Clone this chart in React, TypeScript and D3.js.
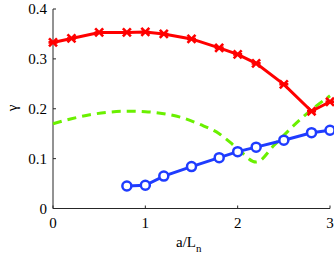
import React from "react";
import * as d3 from "d3";

const WIDTH = 334;
const HEIGHT = 255;
const X0 = 53;
const X1 = 330;
const Y0 = 208.5;
const Y1 = 9;

const redX = [0, 0.2, 0.5, 0.8, 1.0, 1.2, 1.5, 1.8, 2.0, 2.2, 2.5, 2.8, 3.0];
const redY = [0.333, 0.341, 0.353, 0.353, 0.354, 0.35, 0.34, 0.322, 0.309, 0.291, 0.249, 0.195, 0.214];

const blueX = [0.8, 1.0, 1.2, 1.5, 1.8, 2.0, 2.2, 2.5, 2.8, 3.0];
const blueY = [0.045, 0.0465, 0.065, 0.084, 0.102, 0.114, 0.123, 0.137, 0.152, 0.157];

const greenX = [0, 0.2, 0.4, 0.6, 0.8, 1.0, 1.2, 1.4, 1.6, 1.8, 2.0, 2.2, 2.4, 2.6, 2.8, 3.0];
const greenY = [0.17, 0.18, 0.188, 0.193, 0.195, 0.194, 0.19, 0.182, 0.168, 0.15, 0.12, 0.093, 0.128, 0.165, 0.198, 0.226];

const xTicks = [0, 1, 2, 3];
const yTicks = [0, 0.1, 0.2, 0.3, 0.4];

const FONT = "'Liberation Serif', 'Times New Roman', serif";

export default function App() {
  const x = d3.scaleLinear().domain([0, 3]).range([X0, X1]);
  const y = d3.scaleLinear().domain([0, 0.4]).range([Y0, Y1]);

  const line = d3
    .line<[number, number]>()
    .x((d) => x(d[0]))
    .y((d) => y(d[1]));

  const red = redX.map((v, i) => [v, redY[i]] as [number, number]);
  const blue = blueX.map((v, i) => [v, blueY[i]] as [number, number]);
  const green = greenX.map((v, i) => [v, greenY[i]] as [number, number]);

  return (
    <svg
      width={WIDTH}
      height={HEIGHT}
      style={{ position: "absolute", left: 0, top: 0, background: "#fff" }}
    >
      {/* axes */}
      <line x1={X0} x2={X0} y1={Y1} y2={Y0} stroke="#262626" strokeWidth={1} />
      <line x1={X0} x2={X1} y1={Y0} y2={Y0} stroke="#262626" strokeWidth={1} />
      {yTicks.map((t) => (
        <g key={"y" + t}>
          <line x1={X0} x2={X0 + 3} y1={y(t)} y2={y(t)} stroke="#262626" />
          <text
            x={X0 - 6}
            y={y(t) + 5}
            textAnchor="end"
            fontFamily={FONT}
            fontSize={15}
            fill="#000"
          >
            {t === 0 ? "0" : t.toFixed(1)}
          </text>
        </g>
      ))}
      {xTicks.map((t) => (
        <g key={"x" + t}>
          <line x1={x(t)} x2={x(t)} y1={Y0} y2={Y0 - 3} stroke="#262626" />
          <text
            x={x(t)}
            y={Y0 + 19}
            textAnchor="middle"
            fontFamily={FONT}
            fontSize={15}
            fill="#000"
          >
            {t}
          </text>
        </g>
      ))}
      <text x={176} y={247} fontFamily={FONT} fontSize={15} fill="#000">
        a/L
        <tspan fontSize={11} dy={5}>
          n
        </tspan>
      </text>
      <text
        transform="translate(17,108) rotate(-90)"
        textAnchor="middle"
        fontFamily={FONT}
        fontSize={15}
        fill="#000"
      >
        γ
      </text>

      {/* green dashed */}
      <path
        d={line.curve(d3.curveMonotoneX)(green) || ""}
        fill="none"
        stroke="#6af000"
        strokeWidth={3}
        strokeDasharray="9,6"
      />
      {/* red */}
      <path
        d={line.curve(d3.curveLinear)(red) || ""}
        fill="none"
        stroke="#ff0000"
        strokeWidth={3}
      />
      {red.map((d, i) => (
        <g key={"r" + i} transform={`translate(${x(d[0])},${y(d[1])})`}>
          <path
            d="M-4,-4L4,4M-4,4L4,-4M-4.5,0L4.5,0"
            stroke="#ff0000"
            strokeWidth={2.6}
          />
        </g>
      ))}
      {/* blue */}
      <path
        d={line.curve(d3.curveLinear)(blue) || ""}
        fill="none"
        stroke="#1f3cff"
        strokeWidth={3}
      />
      {blue.map((d, i) => (
        <circle
          key={"b" + i}
          cx={x(d[0])}
          cy={y(d[1])}
          r={4.5}
          fill="#fff"
          stroke="#1f3cff"
          strokeWidth={2.5}
        />
      ))}
    </svg>
  );
}
